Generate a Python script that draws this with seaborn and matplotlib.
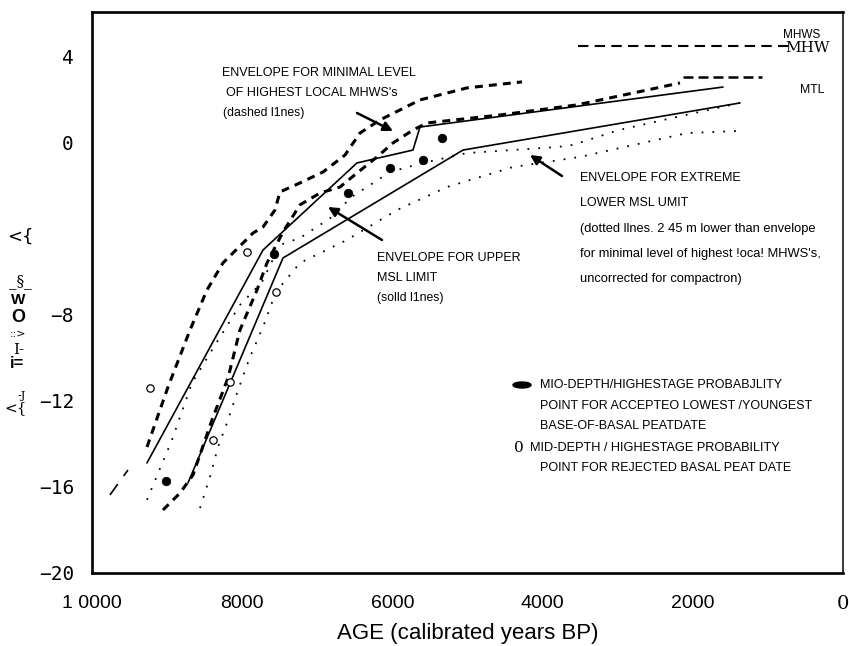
import numpy as np
import matplotlib.pyplot as plt
from matplotlib.patches import Ellipse
import seaborn as sns
import pandas as pd

sns.set_theme(style="white")
plt.rcParams['font.family'] = ['Liberation Sans', 'DejaVu Sans']
plt.rcParams['text.color'] = 'black'

# envelope for minimal level of highest local MHWS's (dashed)
upper_dashed_age = [9268, 8988, 8695, 8469, 8256, 7856, 7723, 7564, 7497, 7231, 6924, 6631, 6432, 6165, 5633, 5007, 4274]
upper_dashed_elev = [-14.14, -11.35, -8.70, -6.84, -5.58, -4.19, -3.91, -3.12, -2.28, -1.86, -1.35, -0.56, 0.46, 1.07, 2.00, 2.56, 2.84]
dashed_tail_age = [9761, 9521]
dashed_tail_elev = [-16.37, -15.21]
lower_dashed_age = [9055, 8828, 8655, 8402, 8189, 8030, 7803, 7670, 7457, 7231, 6964, 6698, 6472, 6205, 5992, 5726, 5539, 4567, 3542, 2610, 2171]
lower_dashed_elev = [-17.07, -16.28, -15.44, -12.88, -10.93, -8.70, -6.84, -5.58, -4.14, -2.88, -2.33, -2.05, -1.40, -0.65, 0.00, 0.60, 0.93, 1.30, 1.77, 2.46, 2.79]

# envelope for upper MSL limit (solid)
upper_solid_age = [9268, 7723, 6472, 5726, 5633, 1598]
upper_solid_elev = [-14.88, -4.98, -0.93, -0.33, 0.74, 2.60]
lower_solid_age = [8722, 7457, 5060, 1372]
lower_solid_elev = [-15.81, -5.35, -0.33, 1.86]

# envelope for extreme lower MSL limit (dotted)
upper_dotted_age = [9268, 8935, 8669, 8362, 8030, 7737, 7497, 7231, 6765, 6565, 6032, 5593, 5007, 3808, 3595, 2983, 2210, 1372]
upper_dotted_elev = [-16.60, -13.81, -11.16, -9.40, -7.54, -6.47, -4.74, -4.42, -3.35, -2.56, -1.35, -0.93, -0.47, -0.19, -0.09, 0.60, 1.21, 1.86]
lower_dotted_age = [8562, 8429, 8322, 8203, 8069, 7896, 7723, 7590, 7497, 7231, 6605, 5939, 5273, 4394, 3502, 2077, 1372]
lower_dotted_elev = [-16.98, -15.53, -14.14, -13.02, -11.63, -9.95, -8.56, -7.30, -6.70, -5.58, -4.51, -3.12, -2.05, -1.12, -0.65, 0.46, 0.56]

# tidal reference levels
mhws_age = [3528, 705]
mhws_elev = [4.51, 4.51]
mtl_age = [2130, 1078]
mtl_elev = [3.07, 3.07]

# basal peat dates
accepted_age = [9015, 7577, 6591, 6032, 5593, 5340]
accepted_elev = [-15.72, -5.16, -2.33, -1.16, -0.79, 0.23]
rejected_age = [9228, 8389, 8163, 7936, 7550]
rejected_elev = [-11.40, -13.81, -11.12, -5.07, -6.93]

x_ticks = [10000, 8000, 6000, 4000, 2000, 0]
x_tick_labels = ["1 0000", "8000", "6000", "4000", "2000", "0"]
y_ticks = [4, 0, -8, -12, -16, -20]
y_tick_labels = ["4", "0", "\u22128", "\u221212", "\u221216", "\u221220"]

W, H = 849, 646
fig = plt.figure(figsize=(W / 100, H / 100), dpi=100)
ax = fig.add_axes([92 / W, 1 - 573 / H, (843 - 92) / W, (573 - 12) / H])


def fx(px):
    return px / W


def fy(py):
    return 1 - py / H


dash = (0, (2.6, 2.0))
dots = (0, (1, 5))
line_sets = [
    (upper_dashed_age, upper_dashed_elev, 2.2, dash),
    (lower_dashed_age, lower_dashed_elev, 2.2, dash),
    (dashed_tail_age, dashed_tail_elev, 1.2, (0, (8, 6))),
    (upper_solid_age, upper_solid_elev, 1.2, '-'),
    (lower_solid_age, lower_solid_elev, 1.2, '-'),
    (upper_dotted_age, upper_dotted_elev, 1.3, dots),
    (lower_dotted_age, lower_dotted_elev, 1.3, dots),
    (mhws_age, mhws_elev, 1.5, (0, (5, 3))),
    (mtl_age, mtl_elev, 1.8, (0, (4, 2))),
]
for xs, ys, lw, ls in line_sets:
    df = pd.DataFrame({"age": xs, "elev": ys})
    sns.lineplot(data=df, x="age", y="elev", sort=False, estimator=None,
                 color="black", linewidth=lw, linestyle=ls, ax=ax)

sns.scatterplot(x=accepted_age, y=accepted_elev, color="black", s=38,
                edgecolor="black", linewidth=0.5, ax=ax, zorder=5)
sns.scatterplot(x=rejected_age, y=rejected_elev, facecolor="white", s=28,
                edgecolor="black", linewidth=0.9, ax=ax, zorder=5)

ax.set_xlim(10000, 0)
ax.set_ylim(-20, 6.09)
ax.set_xticks(x_ticks)
ax.set_xticklabels(x_tick_labels, fontsize=14)
ax.get_xticklabels()[-1].set_family('DejaVu Serif')
ax.set_yticks(y_ticks)
ax.set_yticklabels(y_tick_labels, fontsize=14, family='DejaVu Sans Mono')
ax.tick_params(axis='both', which='major', length=0, colors='black')
ax.tick_params(axis='x', pad=16)
ax.tick_params(axis='y', pad=13)
ax.set_xticks([10000, 0], minor=True)
ax.set_yticks([-20, 6.09], minor=True)
ax.tick_params(which='minor', direction='out', length=9, width=1.8, color='black')
ax.set_xlabel("")
ax.set_ylabel("")
for side in ['top', 'left', 'bottom']:
    ax.spines[side].set_linewidth(1.9)
    ax.spines[side].set_color('black')
ax.spines['right'].set_linewidth(1.1)
ax.spines['right'].set_color('black')

fig.text(fx(468), fy(634), "AGE (calibrated years BP)", fontsize=16,
         ha='center', va='center')

# garbled axis title as it appears on the scan
for txt, px, py, sz, fam, wt in [
    ("<{", 20, 237, 13, 'DejaVu Sans', 'normal'),
    ("_\u00a7_", 20, 282, 11, 'DejaVu Serif', 'normal'),
    ("W", 18, 300, 11, 'Liberation Sans', 'bold'),
    ("O", 18, 318, 13, 'Liberation Sans', 'bold'),
    ("::>", 18, 334, 8, 'DejaVu Sans', 'normal'),
    ("I-", 19, 350, 11, 'DejaVu Serif', 'normal'),
    ("i=", 17, 363, 12, 'Liberation Sans', 'bold'),
    ("-J", 22, 396, 8, 'DejaVu Serif', 'normal'),
    ("<{", 16, 408, 11, 'DejaVu Serif', 'normal'),
]:
    fig.text(fx(px), fy(py), txt, fontsize=sz, family=fam, weight=wt,
             ha='center', va='center')

for txt, px, py, sz in [
    ("ENVELOPE FOR MINIMAL LEVEL", 222, 73, 9),
    ("OF HIGHEST LOCAL MHWS's", 226, 93, 9),
    ("(dashed l1nes)", 223, 113, 8.8),
    ("ENVELOPE FOR UPPER", 377, 258, 9),
    ("MSL LIMIT", 377, 278, 9),
    ("(solld l1nes)", 377, 298, 8.8),
    ("ENVELOPE FOR EXTREME", 580, 178, 9),
    ("LOWER MSL UMIT", 580, 203, 9),
    ("(dotted llnes. 2 45 m lower than envelope", 580, 229, 9.3),
    ("for minimal level of highest !oca! MHWS's,", 580, 254, 9.3),
    ("uncorrected for compactron)", 580, 279, 9.3),
    ("MIO-DEPTH/HIGHESTAGE PROBABJLITY", 540, 385, 9),
    ("POINT FOR ACCEPTEO LOWEST /YOUNGEST", 540, 406, 9),
    ("BASE-OF-BASAL PEATDATE", 540, 426, 9),
    ("MID-DEPTH / HIGHESTAGE PROBABILITY", 530, 448, 9.2),
    ("POINT FOR REJECTED BASAL PEAT DATE", 540, 468, 9),
    ("MHWS", 783, 35, 8.5),
    ("MTL", 800, 90, 8.8),
]:
    fig.text(fx(px), fy(py), txt, fontsize=sz, ha='left', va='center')

fig.text(fx(519), fy(448), "0", fontsize=11, family='DejaVu Serif',
         ha='center', va='center')
fig.text(fx(807), fy(48), "MHW", fontsize=11, family='DejaVu Serif',
         ha='center', va='center')
fig.add_artist(Ellipse((fx(522), fy(385)), 18 / W, 6 / H,
                       transform=fig.transFigure, color='black'))

for tail, head in [((357, 113), (393, 131)),
                   ((382, 240), (328, 207)),
                   ((562, 176), (530, 155))]:
    ax.annotate('', xy=(fx(head[0]), fy(head[1])),
                xytext=(fx(tail[0]), fy(tail[1])),
                xycoords='figure fraction', textcoords='figure fraction',
                arrowprops=dict(arrowstyle='-|>', lw=1.8, color='black',
                                mutation_scale=14, shrinkA=0, shrinkB=0))

fig.savefig("out.png", dpi=100)
